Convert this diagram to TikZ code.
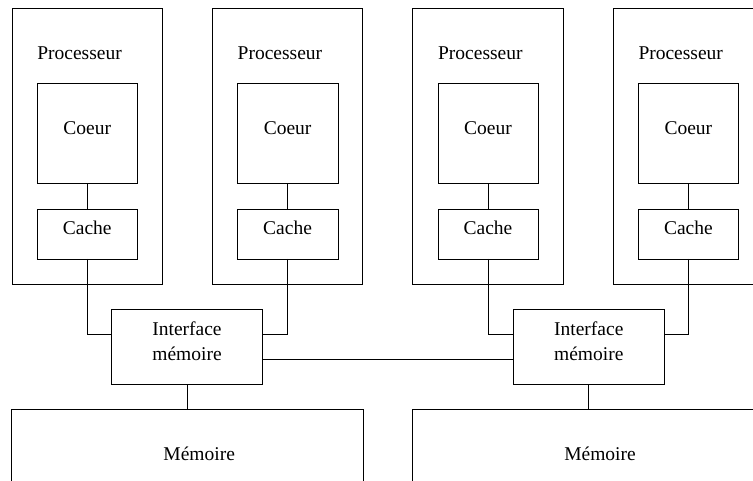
\documentclass[tikz,border=0pt]{standalone}
\usepackage{fontspec}
\setmainfont{Liberation Serif}
\begin{document}
\begin{tikzpicture}[x=1pt,y=-1pt,
  box/.style={draw=black, line width=0.9pt, rectangle, inner sep=0pt, outer sep=0pt},
  lbl/.style={inner sep=0pt, outer sep=0pt, font=\fontsize{19.5}{24.3}\selectfont},
  wire/.style={draw=black, line width=0.9pt}]
\useasboundingbox (0,0) rectangle (753,481);
\clip (0,0) rectangle (753,481);
% processors
\foreach \i/\x in {1/12, 2/212.4, 3/412.8}{
  \node[box, minimum width=150.5pt, minimum height=276pt, anchor=north west] (p\i) at (\x,8) {};
}
\node[box, minimum width=200pt, minimum height=276pt, anchor=north west] (p4) at (613.2,8) {};
\foreach \i/\x in {1/12, 2/212.4, 3/412.8, 4/613.2}{
  \node[box, minimum width=100.5pt, minimum height=100.4pt, anchor=north west] (co\i) at (\x+25.2,83.3) {};
  \node[box, minimum width=100.5pt, minimum height=50pt, anchor=north west] (ca\i) at (\x+25.2,209) {};
  \node[lbl, anchor=base west] (tp\i) at (\x+25.3,60) {Processeur};
  \node[lbl, anchor=base] (tco\i) at (\x+75.2,135) {Coeur};
  \node[lbl, anchor=base] (tca\i) at (\x+75.2,234.5) {Cache};
  \draw[wire] (co\i.south) -- (ca\i.north);
}
% memory interfaces
\node[box, minimum width=150.6pt, minimum height=75pt, anchor=north west] (i1) at (111.7,309.7) {};
\node[box, minimum width=151pt, minimum height=75pt, anchor=north west] (i2) at (513.3,309.7) {};
\node[lbl, anchor=base] (ti1a) at (187,335.7) {Interface};
\node[lbl, anchor=base] (ti1b) at (187,360) {mémoire};
\node[lbl, anchor=base] (ti2a) at (588.8,335.7) {Interface};
\node[lbl, anchor=base] (ti2b) at (588.8,360) {mémoire};
% memories
\node[box, minimum width=351.3pt, minimum height=100pt, anchor=north west] (m1) at (11.7,409.7) {};
\node[box, minimum width=420pt, minimum height=100pt, anchor=north west] (m2) at (412.7,409.7) {};
\node[lbl, anchor=base] (tm1) at (199.2,460) {Mémoire};
\node[lbl, anchor=base] (tm2) at (600,460) {Mémoire};
% connectors
\draw[wire] (ca1.south) |- ([yshift=12.9pt]i1.west);
\draw[wire] (ca2.south) |- ([yshift=12.9pt]i1.east);
\draw[wire] (ca3.south) |- ([yshift=12.9pt]i2.west);
\draw[wire] (ca4.south) |- ([yshift=12.9pt]i2.east);
\draw[wire] ([yshift=-11.8pt]i1.east) -- ([yshift=-11.8pt]i1.east -| i2.west);
\draw[wire] (i1.south) -- (i1.south |- m1.north);
\draw[wire] (i2.south) -- (i2.south |- m2.north);
\end{tikzpicture}
\end{document}
